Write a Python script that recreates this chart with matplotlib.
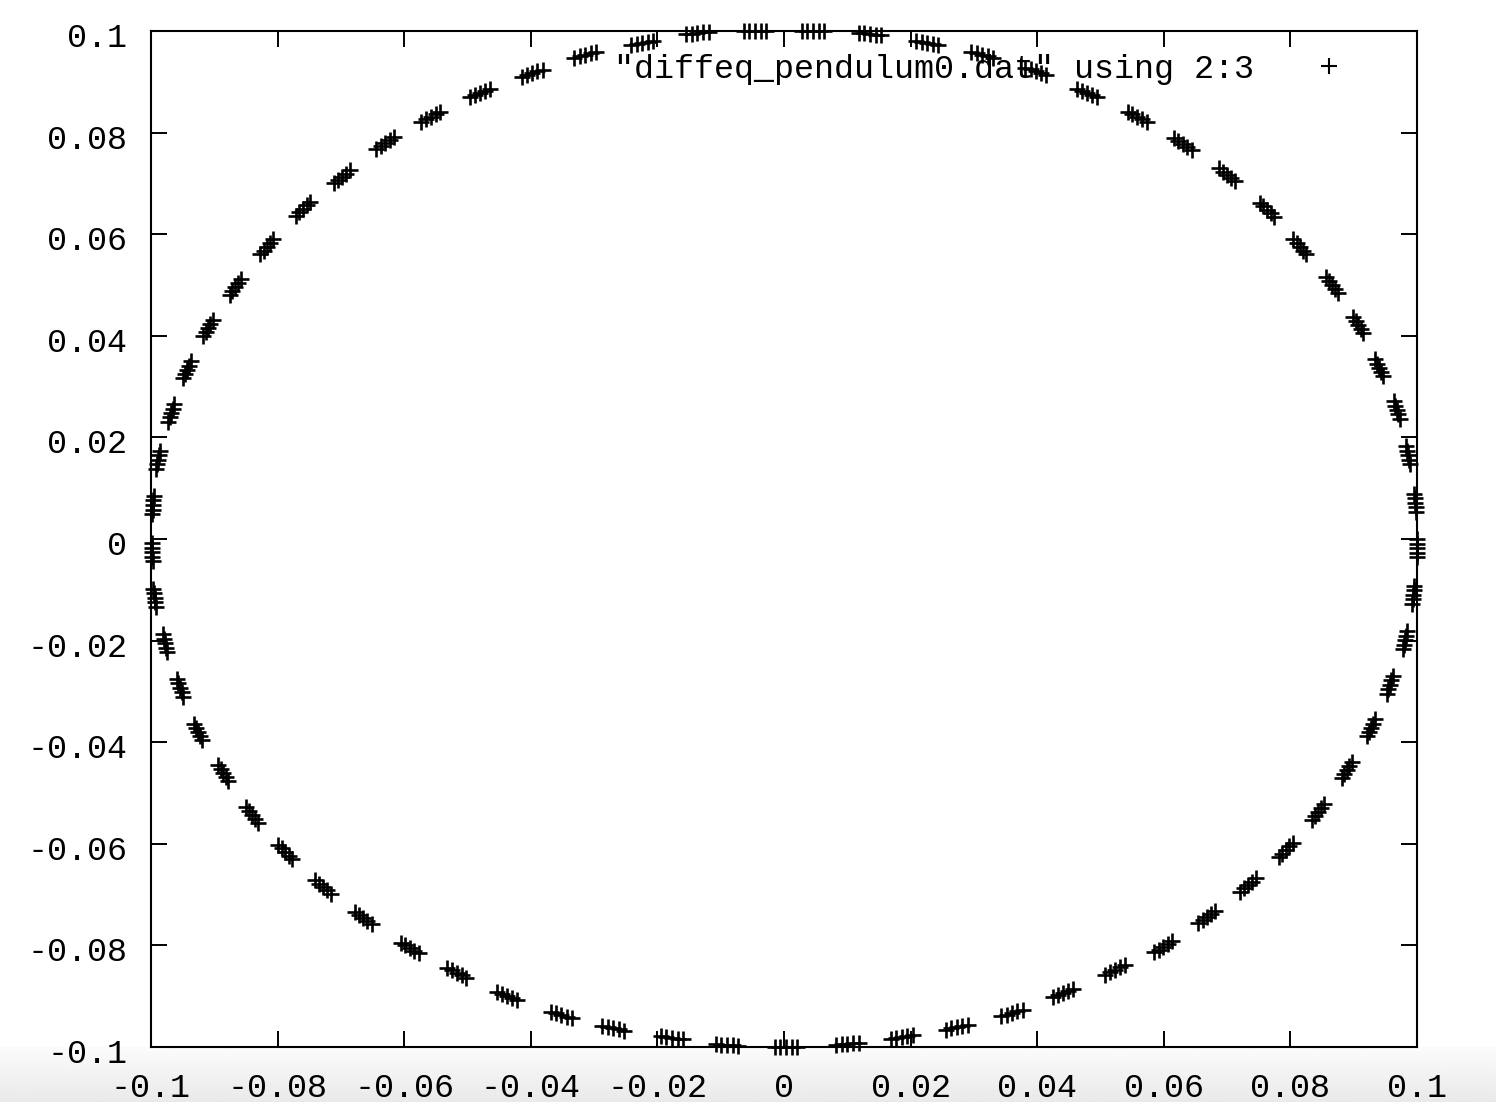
import numpy as np
import matplotlib
matplotlib.use("Agg")
import matplotlib.pyplot as plt
import matplotlib.transforms as mtransforms
from matplotlib.ticker import FixedLocator, FixedFormatter

# ---- data ----------------------------------------------------------------
# centre of every cluster of '+' points around the phase-space orbit (x = angle, y = velocity)
cluster_x = [0.0046, -0.0046, -0.0137, -0.0224, -0.0314, -0.0398, -0.0480, -0.0558,
             -0.0630, -0.0698, -0.0760, -0.0817, -0.0867, -0.0910, -0.0943, -0.0968,
             -0.0989, -0.0997, -0.0998, -0.0994, -0.0978, -0.0954, -0.0926, -0.0886,
             -0.0840, -0.0788, -0.0728, -0.0665, -0.0591, -0.0517, -0.0438, -0.0352,
             -0.0270, -0.0177, -0.0090, 0.0003, 0.0100, 0.0186, 0.0273, 0.0360,
             0.0441, 0.0523, 0.0599, 0.0668, 0.0733, 0.0793, 0.0844, 0.0889,
             0.0927, 0.0957, 0.0981, 0.0994, 0.1000, 0.0997, 0.0986, 0.0968,
             0.0940, 0.0907, 0.0866, 0.0815, 0.0763, 0.0700, 0.0630, 0.0558,
             0.0479, 0.0398, 0.0313, 0.0226, 0.0136]
cluster_y = [0.1000, 0.1000, 0.0996, 0.0976, 0.0953, 0.0917, 0.0878, 0.0831,
             0.0780, 0.0713, 0.0650, 0.0575, 0.0496, 0.0415, 0.0333, 0.0248,
             0.0156, 0.0067, -0.0026, -0.0116, -0.0205, -0.0293, -0.0380, -0.0461,
             -0.0543, -0.0616, -0.0685, -0.0746, -0.0805, -0.0854, -0.0900, -0.0937,
             -0.0963, -0.0982, -0.0996, -0.1000, -0.0994, -0.0980, -0.0961, -0.0933,
             -0.0894, -0.0848, -0.0803, -0.0744, -0.0681, -0.0612, -0.0537, -0.0455,
             -0.0372, -0.0287, -0.0199, -0.0110, -0.0018, 0.0071, 0.0165, 0.0254,
             0.0337, 0.0421, 0.0500, 0.0575, 0.0648, 0.0717, 0.0778, 0.0831,
             0.0878, 0.0921, 0.0953, 0.0976, 0.0994]
# shift along the orbit of each successive swing inside a cluster (read from cluster widths)
swing_shift = [-0.0018, -0.0009, 0.0, 0.0009, 0.0018]

tick_values = [-0.1, -0.08, -0.06, -0.04, -0.02, 0.0, 0.02, 0.04, 0.06, 0.08, 0.1]
tick_labels = ["-0.1", "-0.08", "-0.06", "-0.04", "-0.02", "0",
               "0.02", "0.04", "0.06", "0.08", "0.1"]
series_label = '"diffeq_pendulum0.dat" using 2:3'

# ---- build the point list --------------------------------------------------
cx = np.array(cluster_x)
cy = np.array(cluster_y)
theta = np.arctan2(cy, cx)
tx, ty = -np.sin(theta), np.cos(theta)
px = np.concatenate([cx + s * tx for s in swing_shift])
py = np.concatenate([cy + s * ty for s in swing_shift])

# ---- figure ----------------------------------------------------------------
plt.rcParams["font.family"] = ["Liberation Mono", "DejaVu Sans Mono"]
plt.rcParams["axes.unicode_minus"] = False

W, H = 1496, 1102
FS = 24
fig = plt.figure(figsize=(W / 100, H / 100), dpi=100)
fig.patch.set_facecolor("white")

# light grey shadow strip at the bottom of the screenshot
bg = fig.add_axes([0, 0, 1, 55 / H], zorder=-5)
grad = np.linspace(0.985, 0.915, 64).reshape(-1, 1)
bg.imshow(grad, aspect="auto", cmap="gray", vmin=0, vmax=1, extent=[0, 1, 0, 1])
bg.set_axis_off()

L, R, T, B = 151, 1417, 31, 1047
ax = fig.add_axes([L / W, 1 - B / H, (R - L) / W, (B - T) / H])
ax.patch.set_alpha(0)

ax.plot(px, py, linestyle="none", marker="+", markersize=11.5,
        markeredgewidth=1.9, color="black", clip_on=False, zorder=3,
        antialiased=False, label=series_label)

ax.set_xlim(-0.1, 0.1)
ax.set_ylim(-0.1, 0.1)
for axis in (ax.xaxis, ax.yaxis):
    axis.set_major_locator(FixedLocator(tick_values))
    axis.set_major_formatter(FixedFormatter(tick_labels))
ax.tick_params(direction="in", length=11.5, width=1.4, top=True, right=True,
               labelsize=FS, color="black")
ax.tick_params(axis="x", pad=19)
ax.tick_params(axis="y", pad=17)
for sp in ax.spines.values():
    sp.set_linewidth(1.5)

shift = mtransforms.ScaledTranslation(0, -4 / 100, fig.dpi_scale_trans)
for lab in ax.get_yticklabels():
    lab.set_transform(lab.get_transform() + shift)

leg = ax.legend(loc="upper right", bbox_to_anchor=(1362 / W, 1 - 54 / H),
                bbox_transform=fig.transFigure, frameon=False, markerfirst=False,
                fontsize=FS, handlelength=2.0, handletextpad=1.25,
                borderpad=0, borderaxespad=0)
for h in leg.legend_handles:
    h.set_markeredgewidth(1.5)
    h.set_antialiased(True)

fig.savefig("out.png", dpi=100)
